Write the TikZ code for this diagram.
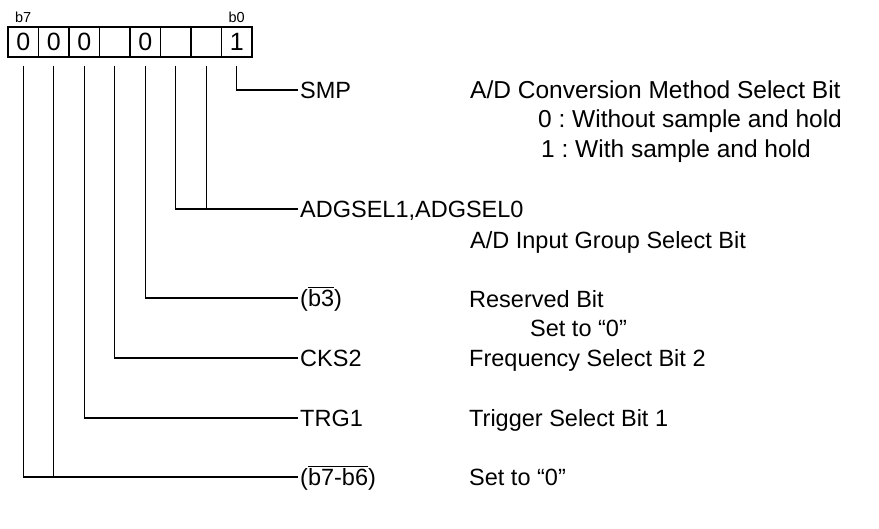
\documentclass[tikz,border=0pt]{standalone}
\usepackage{fontspec}
\setmainfont{Liberation Sans}
\frenchspacing
\begin{document}
\begin{tikzpicture}[x=1pt,y=-1pt,
  wire/.style={line width=1.4pt},
  cell/.style={draw,line width=1.4pt,minimum width=30.5pt,minimum height=30pt,inner sep=0pt,font=\fontsize{25}{28}\selectfont},
  bitlbl/.style={anchor=south,inner sep=0pt,font=\fontsize{14.5}{16}\selectfont},
  lbl/.style={anchor=west,inner xsep=2pt,inner ysep=0pt,text height=20pt,text depth=4pt,font=\fontsize{23.5}{28}\selectfont},
  desc/.style={anchor=base west,inner sep=0pt,font=\fontsize{23.5}{28}\selectfont},
  descbig/.style={desc,font=\fontsize{24.5}{28}\selectfont}]
\useasboundingbox (0,0) rectangle (879,528);
% register cells
\foreach \i/\v [count=\k from 0] in {7/0,6/0,5/0,4/,3/0,2/,1/,0/1}
  \node[cell] (c\i) at (23.25+30.5*\k,42) {\v};
\node[bitlbl] (b7) at ([yshift=3pt]c7.north) {b7};
\node[bitlbl] (b0) at ([yshift=3pt]c0.north) {b0};
% labels
\node[lbl] (smp) at (298,90) {SMP};
\node[lbl] (adg) at (298,209) {ADGSEL1,ADGSEL0};
\node[lbl] (rb3) at (298,298) {($\overline{\hbox{b3}}$)};
\node[lbl] (cks) at (298,358) {CKS2};
\node[lbl] (trg) at (298,418) {TRG1};
\node[lbl] (r76) at (298,477) {($\overline{\hbox{b7-b6}}$)};
% connectors
\foreach \i in {0,...,7} \coordinate (s\i) at ([yshift=-8pt]c\i.south);
\draw[wire] (s0) |- (smp.west);
\draw[wire] (s2) |- (adg.west);
\draw[wire] (s1) -- (s1 |- adg.west);
\draw[wire] (s3) |- (rb3.west);
\draw[wire] (s4) |- (cks.west);
\draw[wire] (s5) |- (trg.west);
\draw[wire] (s7) |- (r76.west);
\draw[wire] (s6) -- (s6 |- r76.west);
% descriptions
\node[descbig] (d1) at (470,98) {A/D Conversion Method Select Bit};
\node[descbig] (d1a) at (538,127) {0 : Without sample and hold};
\node[descbig] (d1b) at (541,157) {1 : With sample and hold};
\node[desc] (d2) at (470,248) {A/D Input Group Select Bit};
\node[desc] (d3) at (469,307) {Reserved Bit};
\node[desc] (d3a) at (530,336) {Set to “0”};
\node[desc] (d4) at (469,366) {Frequency Select Bit 2};
\node[desc] (d5) at (469,426) {Trigger Select Bit 1};
\node[desc] (d6) at (469,485) {Set to “0”};
\end{tikzpicture}
\end{document}
